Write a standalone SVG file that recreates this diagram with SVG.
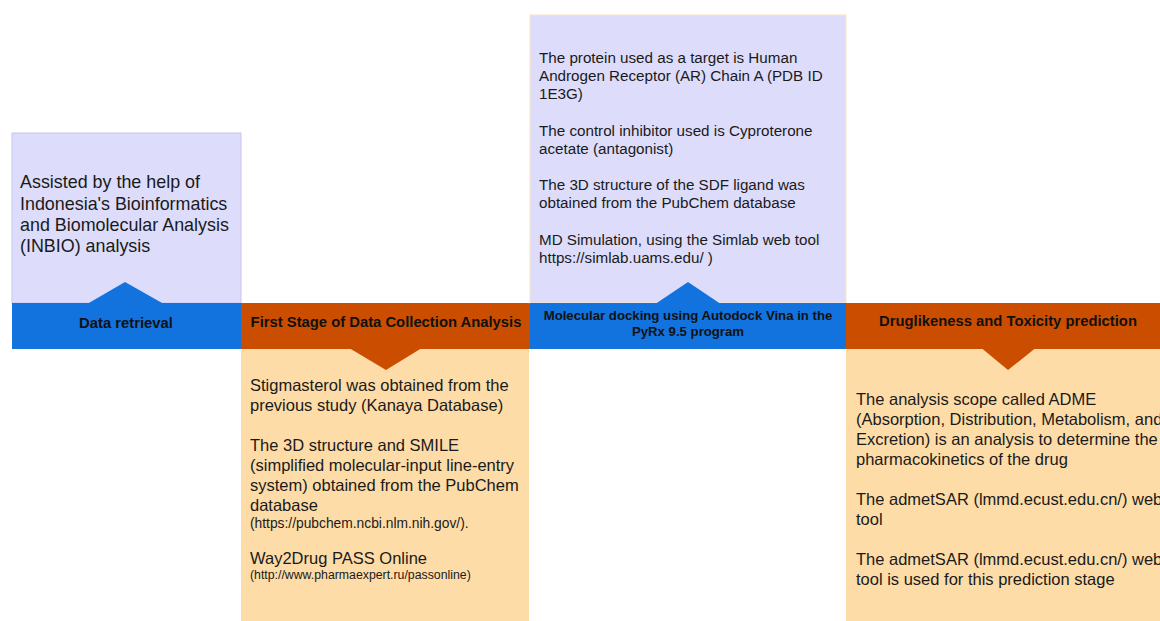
<svg xmlns="http://www.w3.org/2000/svg" width="1160" height="621" viewBox="0 0 1160 621">
<style>
.lav{fill:#DDDDFB;}
.pch{fill:#FEDCA7;}
.blue{fill:#1273DE;}
.orng{fill:#CB4E00;}
.t{font-family:"Liberation Sans",Arial,sans-serif;fill:#1a1a1a;}
.b{font-family:"Liberation Sans",Arial,sans-serif;font-weight:bold;fill:#111111;text-anchor:middle;}
</style>
<rect width="1160" height="621" fill="#ffffff"/>
<g id="node-data-retrieval">
<rect class="lav" x="12" y="133" width="229" height="170" stroke="#C4C4F4" stroke-width="1"/>
<rect class="blue" x="12" y="303" width="229" height="46"/>
<polygon class="blue" points="88,303.5 125,282 163,303.5"/>
<text class="t" font-size="17.9" x="20"><tspan x="20" y="188">Assisted by the help of</tspan><tspan x="20" y="210">Indonesia's Bioinformatics</tspan><tspan x="20" y="231">and Biomolecular Analysis</tspan><tspan x="20" y="252">(INBIO) analysis</tspan></text>
<text class="b" font-size="14.8" x="126" y="328">Data retrieval</text>
</g>
<g id="node-first-stage">
<rect class="pch" x="241" y="349" width="288" height="272"/>
<rect class="orng" x="241" y="303" width="289" height="46"/>
<polygon class="orng" points="350,348.5 386,370 421,348.5"/>
<text class="b" font-size="14.8" x="386" y="327">First Stage of Data Collection Analysis</text>
<text class="t" font-size="16.5"><tspan x="250" y="391">Stigmasterol was obtained from the</tspan><tspan x="250" y="411">previous study (Kanaya Database)</tspan><tspan x="250" y="451">The 3D structure and SMILE</tspan><tspan x="250" y="471">(simplified molecular-input line-entry</tspan><tspan x="250" y="491">system) obtained from the PubChem</tspan><tspan x="250" y="511">database</tspan></text>
<text class="t" font-size="13.8" x="250" y="528">(https://pubchem.ncbi.nlm.nih.gov/).</text>
<text class="t" font-size="16.5" x="250" y="564">Way2Drug PASS Online</text>
<text class="t" font-size="12.3" x="250" y="579">(http://www.pharmaexpert.ru/passonline)</text>
</g>
<g id="node-molecular-docking">
<rect class="lav" x="530" y="15" width="316" height="288" stroke="#FCE3C0" stroke-width="1"/>
<rect class="blue" x="530" y="303" width="316" height="46"/>
<polygon class="blue" points="656,303.5 688,282 720,303.5"/>
<text class="t" font-size="15.2"><tspan x="539" y="63">The protein used as a target is Human</tspan><tspan x="539" y="81">Androgen Receptor (AR) Chain A (PDB ID</tspan><tspan x="539" y="99">1E3G)</tspan><tspan x="539" y="136">The control inhibitor used is Cyproterone</tspan><tspan x="539" y="154">acetate (antagonist)</tspan><tspan x="539" y="190">The 3D structure of the SDF ligand was</tspan><tspan x="539" y="208">obtained from the PubChem database</tspan><tspan x="539" y="245">MD Simulation, using the Simlab web tool</tspan><tspan x="539" y="263">https://simlab.uams.edu/ )</tspan></text>
<text class="b" font-size="13.2"><tspan x="688" y="320">Molecular docking using Autodock Vina in the</tspan><tspan x="688" y="336">PyRx 9.5 program</tspan></text>
</g>
<g id="node-druglikeness">
<rect class="pch" x="846" y="349" width="314" height="272"/>
<rect class="orng" x="846" y="303" width="314" height="46"/>
<polygon class="orng" points="982,348.5 1008,370 1035,348.5"/>
<text class="b" font-size="14.8" x="1008" y="326">Druglikeness and Toxicity prediction</text>
<text class="t" font-size="16.5"><tspan x="856" y="405">The analysis scope called ADME</tspan><tspan x="856" y="425">(Absorption, Distribution, Metabolism, and</tspan><tspan x="856" y="445">Excretion) is an analysis to determine the</tspan><tspan x="856" y="465">pharmacokinetics of the drug</tspan><tspan x="856" y="505">The admetSAR (lmmd.ecust.edu.cn/) web</tspan><tspan x="856" y="525">tool</tspan><tspan x="856" y="565">The admetSAR (lmmd.ecust.edu.cn/) web</tspan><tspan x="856" y="585">tool is used for this prediction stage</tspan></text>
</g>
<g id="connectors"></g>
</svg>
